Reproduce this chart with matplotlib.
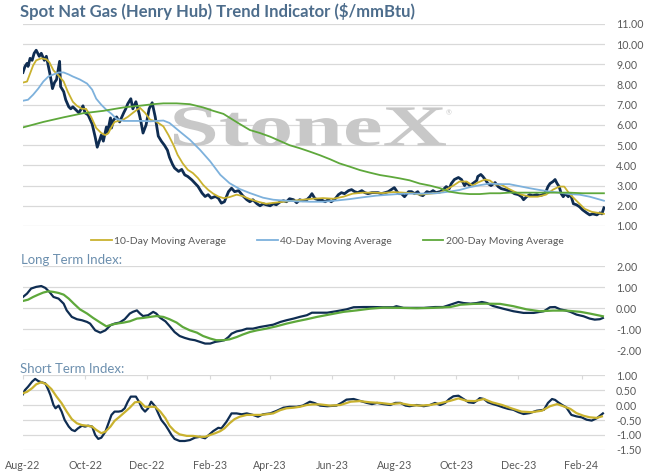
import datetime as dt

import matplotlib
matplotlib.use("Agg")
import matplotlib.pyplot as plt
import matplotlib.dates as mdates
import numpy as np
from matplotlib.font_manager import FontProperties
from matplotlib.patches import PathPatch
from matplotlib.textpath import TextPath
from matplotlib.transforms import Affine2D

plt.rcParams['font.family'] = ['Lato', 'DejaVu Sans']

START = dt.datetime(2022, 8, 1)

# ---- data (day offset from 1 Aug 2022, value) ----
spot_day = [0, 2, 4, 5, 7, 9, 11, 13, 16, 18, 21, 23, 27, 29, 31, 33, 36, 37, 40, 42,
            45, 47, 49, 53, 55, 59, 61, 64, 68, 71, 73, 75, 77, 79, 82, 83, 86, 87, 89, 92,
            95, 99, 101, 103, 106, 108, 111, 114, 116, 118, 121, 124, 127, 130, 133, 136, 139, 142, 144, 147,
            149, 153, 156, 159, 162, 166, 169, 172, 176, 179, 182, 185, 189, 192, 195, 198, 202, 205, 208, 212,
            216, 220, 223, 226, 230, 233, 236, 239, 243, 246, 249, 253, 256, 259, 262, 266, 269, 272, 275, 279,
            282, 284, 287, 290, 293, 297, 300, 303, 307, 310, 313, 316, 320, 323, 326, 329, 333, 336, 339, 343,
            346, 349, 352, 356, 359, 362, 365, 369, 372, 375, 379, 382, 385, 388, 390, 393, 397, 400, 403, 406,
            410, 413, 416, 419, 421, 424, 428, 431, 434, 436, 439, 442, 446, 447, 450, 452, 455, 457, 460, 464,
            467, 470, 474, 477, 480, 483, 487, 490, 492, 495, 498, 501, 505, 508, 511, 514, 516, 518, 521, 523,
            525, 527, 529, 531, 533, 536, 538, 541, 544, 547, 550, 554, 557, 560, 564, 567, 569, 571]
spot_val = [8.6, 8.9, 9.05, 8.9, 9.3, 9.2, 9.55, 9.7, 9.4, 9.55, 9.2, 9.4, 8.4, 7.8, 8.1, 8.25, 9.15, 7.9, 7.65, 7.25,
            6.9, 6.8, 6.9, 6.7, 6.6, 6.95, 6.6, 6.5, 6.05, 5.4, 4.9, 5.2, 5.5, 5.2, 5.9, 5.6, 6.35, 5.85, 6.25, 6.4,
            6.15, 6.6, 6.8, 7.05, 7.3, 6.8, 7.15, 6.6, 6.15, 5.6, 6.0, 6.8, 7.1, 6.4, 5.45, 5.2, 5.0, 4.75, 4.4, 4.05,
            3.87, 3.7, 3.8, 3.53, 3.45, 3.28, 3.12, 2.96, 2.63, 2.46, 2.55, 2.38, 2.46, 2.38, 2.13, 2.2, 2.7, 2.87, 2.7, 2.75,
            2.5, 2.3, 2.2, 2.3, 2.1, 2.0, 2.1, 2.05, 2.0, 2.1, 2.05, 2.2, 2.25, 2.2, 2.35, 2.3, 2.15, 2.3, 2.25, 2.3,
            2.45, 2.6, 2.35, 2.3, 2.3, 2.2, 2.3, 2.2, 2.35, 2.55, 2.65, 2.6, 2.75, 2.8, 2.7, 2.65, 2.75, 2.65, 2.6, 2.65,
            2.65, 2.65, 2.6, 2.65, 2.7, 2.8, 2.9, 2.6, 2.6, 2.45, 2.7, 2.7, 2.6, 2.7, 2.55, 2.5, 2.7, 2.65, 2.75, 2.65,
            2.7, 2.8, 2.95, 2.85, 3.1, 3.3, 3.4, 3.3, 3.0, 3.15, 3.0, 3.1, 3.25, 3.45, 3.55, 3.45, 3.25, 3.1, 3.0, 3.15,
            2.95, 2.85, 2.8, 2.75, 2.7, 2.6, 2.55, 2.45, 2.3, 2.45, 2.55, 2.5, 2.55, 2.5, 2.55, 2.7, 2.95, 3.1, 3.2, 3.3,
            3.1, 2.95, 2.6, 2.45, 2.6, 2.45, 2.6, 2.1, 2.05, 1.95, 1.8, 1.65, 1.55, 1.6, 1.55, 1.65, 1.6, 1.9]

ma10_day = [0, 4, 7, 10, 13, 18, 23, 26, 30, 35, 40, 44, 49, 53, 58, 62, 67, 72, 77, 81,
            84, 87, 90, 94, 98, 103, 108, 112, 115, 120, 125, 131, 138, 143, 148, 152, 157, 162, 167, 172,
            177, 182, 187, 192, 197, 203, 210, 216, 223, 231, 239, 247, 256, 265, 275, 285, 295, 305, 315, 324,
            334, 344, 354, 364, 374, 383, 390, 400, 410, 416, 423, 429, 436, 442, 447, 454, 459, 464, 470, 477,
            483, 490, 498, 506, 514, 521, 527, 532, 537, 542, 547, 552, 559, 565, 571]
ma10_val = [8.1, 8.15, 8.55, 8.95, 9.2, 9.3, 9.25, 9.1, 8.7, 8.45, 8.15, 7.65, 7.15, 6.95, 6.8, 6.8, 6.4, 5.85, 5.6, 5.5,
            5.6, 5.9, 6.15, 6.2, 6.25, 6.4, 6.6, 6.75, 6.85, 6.6, 6.26, 6.17, 5.93, 5.5, 5.0, 4.52, 4.1, 3.78, 3.62, 3.37,
            3.04, 2.79, 2.6, 2.46, 2.38, 2.43, 2.55, 2.48, 2.33, 2.2, 2.1, 2.15, 2.2, 2.25, 2.3, 2.35, 2.38, 2.35, 2.45, 2.6,
            2.65, 2.65, 2.63, 2.68, 2.65, 2.62, 2.55, 2.6, 2.65, 2.8, 3.0, 3.2, 3.2, 3.0, 3.15, 3.3, 3.25, 3.05, 3.05, 2.85,
            2.7, 2.55, 2.45, 2.45, 2.55, 2.8, 2.95, 2.95, 2.6, 2.35, 2.1, 1.85, 1.7, 1.65, 1.6]

ma40_day = [0, 5, 10, 15, 20, 25, 30, 35, 40, 45, 49, 56, 63, 68, 72, 77, 82, 87, 92, 99,
            105, 112, 118, 125, 131, 138, 144, 154, 164, 174, 184, 194, 203, 213, 223, 236, 246, 256, 269, 282,
            295, 308, 321, 334, 347, 360, 374, 387, 406, 419, 429, 439, 449, 459, 469, 478, 488, 498, 508, 518,
            528, 537, 547, 557, 571]
ma40_val = [7.2, 7.25, 7.5, 7.8, 8.15, 8.4, 8.5, 8.6, 8.6, 8.5, 8.4, 8.25, 8.05, 7.75, 7.3, 7.0, 6.75, 6.55, 6.3, 6.2,
            6.2, 6.2, 6.2, 6.18, 6.2, 6.22, 6.1, 5.68, 5.27, 4.77, 4.2, 3.53, 3.12, 2.83, 2.63, 2.4, 2.3, 2.26, 2.22, 2.2,
            2.2, 2.26, 2.33, 2.42, 2.5, 2.55, 2.6, 2.6, 2.62, 2.7, 2.78, 2.92, 3.02, 3.1, 3.07, 3.07, 2.97, 2.87, 2.78, 2.7,
            2.65, 2.58, 2.55, 2.45, 2.25]

ma200_day = [0, 20, 40, 59, 79, 99, 118, 128, 138, 151, 164, 177, 187, 197, 205, 213, 223, 233, 243, 252,
             262, 272, 282, 292, 302, 311, 321, 331, 341, 351, 361, 370, 380, 390, 400, 410, 419, 429, 439, 449,
             459, 469, 478, 498, 524, 537, 550, 571]
ma200_val = [5.88, 6.15, 6.38, 6.58, 6.7, 6.87, 6.97, 7.03, 7.07, 7.07, 7.03, 6.87, 6.7, 6.55, 6.3, 6.05, 5.75, 5.6, 5.42, 5.22,
             5.0, 4.85, 4.68, 4.5, 4.3, 4.1, 3.94, 3.77, 3.64, 3.52, 3.44, 3.36, 3.26, 3.1, 3.0, 2.87, 2.7, 2.62, 2.58, 2.58,
             2.62, 2.62, 2.65, 2.65, 2.65, 2.65, 2.62, 2.62]

lt_day = [0, 4, 8, 13, 18, 22, 26, 30, 35, 40, 43, 48, 53, 58, 63, 66, 71, 76, 81, 86,
          90, 95, 100, 105, 108, 112, 115, 118, 123, 128, 131, 135, 140, 144, 149, 154, 159, 164, 169, 174,
          179, 184, 189, 194, 198, 202, 205, 210, 215, 220, 226, 233, 239, 246, 253, 259, 266, 272, 279, 284,
          292, 299, 308, 318, 325, 335, 344, 354, 364, 367, 374, 384, 394, 405, 413, 420, 428, 433, 440, 446,
          451, 456, 462, 472, 482, 492, 502, 512, 518, 523, 528, 533, 538, 544, 551, 557, 562, 567, 570]
lt_val = [0.54, 0.7, 0.94, 1.02, 1.06, 0.97, 0.78, 0.54, 0.46, 0.22, -0.1, -0.41, -0.52, -0.57, -0.65, -0.73, -1.05, -1.16, -1.05, -0.81,
          -0.73, -0.68, -0.52, -0.25, -0.17, -0.1, -0.25, -0.37, -0.33, -0.17, -0.25, -0.46, -0.62, -0.84, -1.13, -1.32, -1.41, -1.48, -1.52, -1.6,
          -1.68, -1.68, -1.6, -1.56, -1.52, -1.37, -1.21, -1.1, -1.05, -0.97, -0.97, -0.89, -0.84, -0.78, -0.65, -0.57, -0.49, -0.41, -0.33, -0.21,
          -0.21, -0.21, -0.14, -0.05, 0.05, 0.06, 0.06, 0.05, 0.05, 0.1, 0.02, 0.02, 0.02, 0.06, 0.06, 0.17, 0.3, 0.25, 0.22, 0.25,
          0.3, 0.25, 0.11, -0.02, -0.14, -0.22, -0.22, -0.14, 0.05, 0.06, -0.05, -0.1, -0.17, -0.3, -0.38, -0.49, -0.54, -0.52, -0.46]

lt_avg_day = [0, 5, 10, 15, 20, 25, 30, 35, 40, 45, 50, 56, 63, 69, 76, 82, 87, 92, 99, 105,
              112, 118, 125, 131, 138, 144, 151, 157, 164, 171, 177, 184, 190, 197, 203, 210, 216, 223, 230, 239,
              249, 259, 269, 279, 289, 302, 315, 328, 341, 354, 371, 387, 403, 420, 430, 443, 456, 469, 482, 495,
              508, 521, 534, 548, 557, 570]
lt_avg_val = [0.35, 0.41, 0.54, 0.65, 0.75, 0.81, 0.78, 0.73, 0.65, 0.46, 0.22, -0.05, -0.25, -0.46, -0.68, -0.86, -0.78, -0.73, -0.68, -0.62,
              -0.49, -0.46, -0.41, -0.37, -0.41, -0.52, -0.68, -0.89, -1.05, -1.16, -1.32, -1.44, -1.52, -1.52, -1.48, -1.37, -1.25, -1.13, -1.05, -0.97,
              -0.86, -0.73, -0.62, -0.52, -0.41, -0.29, -0.17, -0.1, -0.02, 0.03, 0.02, 0.0, 0.02, 0.06, 0.17, 0.21, 0.22, 0.21, 0.1, -0.05,
              -0.14, -0.11, -0.11, -0.17, -0.25, -0.38]

st_day = [0, 2, 5, 9, 12, 15, 18, 22, 25, 27, 30, 32, 35, 38, 41, 45, 48, 51, 54, 58,
          61, 64, 68, 71, 74, 77, 81, 84, 87, 90, 94, 97, 100, 103, 106, 111, 114, 117, 120, 123,
          126, 130, 133, 136, 140, 143, 146, 149, 154, 159, 164, 169, 174, 179, 182, 187, 192, 195, 200, 205,
          210, 215, 220, 226, 231, 236, 243, 249, 256, 262, 269, 275, 282, 287, 292, 299, 308, 313, 318, 325,
          331, 338, 343, 348, 354, 361, 366, 371, 376, 380, 387, 394, 400, 405, 410, 415, 419, 423, 428, 433,
          438, 443, 446, 449, 453, 457, 462, 467, 472, 477, 482, 487, 492, 498, 505, 512, 516, 520, 523, 526,
          530, 534, 539, 544, 549, 554, 559, 564, 567, 570]
st_val = [0.36, 0.5, 0.61, 0.78, 0.87, 0.8, 0.76, 0.72, 0.5, 0.33, 0.0, -0.11, -0.02, -0.22, -0.5, -0.72, -0.83, -0.87, -0.78, -0.69,
          -0.72, -0.69, -0.72, -1.0, -1.13, -1.09, -0.89, -0.61, -0.33, -0.22, -0.22, -0.2, -0.11, 0.11, 0.28, 0.28, 0.11, -0.11, -0.22, -0.11,
          0.11, -0.05, -0.28, -0.5, -0.67, -0.83, -1.0, -1.13, -1.2, -1.2, -1.17, -1.09, -1.06, -1.11, -1.02, -0.87, -0.76, -0.78, -0.56, -0.28,
          -0.28, -0.31, -0.28, -0.33, -0.39, -0.31, -0.28, -0.2, -0.09, -0.06, -0.06, -0.02, 0.11, 0.06, -0.02, -0.04, -0.02, 0.07, 0.18, 0.2,
          0.14, 0.07, 0.03, 0.07, 0.03, 0.0, 0.07, 0.07, -0.02, -0.04, 0.0, -0.04, 0.0, 0.07, 0.0, 0.07, 0.2, 0.29, 0.31, 0.2,
          0.09, 0.07, 0.14, 0.23, 0.2, 0.09, 0.03, -0.02, -0.08, -0.13, -0.16, -0.24, -0.3, -0.27, -0.19, -0.16, 0.07, 0.2, 0.17, 0.09,
          0.0, -0.08, -0.33, -0.38, -0.41, -0.49, -0.52, -0.44, -0.36, -0.28]

st_avg_day = [0, 4, 9, 13, 18, 23, 28, 33, 38, 43, 48, 53, 58, 63, 68, 72, 77, 81, 86, 90,
              95, 100, 105, 110, 115, 120, 125, 130, 135, 140, 144, 149, 154, 161, 167, 174, 179, 184, 189, 194,
              198, 203, 208, 213, 220, 226, 233, 239, 246, 253, 259, 266, 272, 279, 285, 292, 302, 312, 322, 331,
              341, 351, 361, 371, 380, 390, 400, 410, 420, 428, 436, 444, 453, 461, 471, 480, 490, 500, 510, 518,
              525, 531, 538, 544, 551, 557, 564, 569]
st_avg_val = [0.39, 0.44, 0.56, 0.69, 0.76, 0.69, 0.53, 0.28, 0.06, -0.22, -0.47, -0.61, -0.67, -0.69, -0.72, -0.83, -0.94, -0.89, -0.72, -0.53,
              -0.39, -0.24, -0.09, 0.09, 0.11, -0.06, -0.06, -0.06, -0.22, -0.44, -0.69, -0.87, -0.98, -1.03, -1.03, -1.06, -1.06, -1.0, -0.94, -0.87,
              -0.78, -0.61, -0.47, -0.39, -0.33, -0.33, -0.33, -0.31, -0.28, -0.17, -0.11, -0.09, -0.06, 0.0, 0.02, 0.02, -0.02, 0.0, 0.11, 0.13,
              0.09, 0.07, 0.03, 0.06, 0.0, -0.02, 0.0, 0.06, 0.14, 0.22, 0.14, 0.13, 0.2, 0.09, 0.0, -0.11, -0.22, -0.24, -0.19, -0.04,
              0.03, -0.04, -0.13, -0.27, -0.36, -0.41, -0.43, -0.38]

NAVY = '#0f2d52'
GOLD = '#c9b22f'
BLUE = '#7db1dc'
GREEN = '#5ea83b'
GRID = '#d9d9d9'
TICK = '#595959'


def to_dates(days):
    return mdates.date2num(START) + np.asarray(days, dtype=float)


fig = plt.figure(figsize=(6.47, 4.71), dpi=100)
W, H = 647, 471

ax1 = fig.add_axes([0.0355, 0.5202, 0.8995, 0.4289])
ax2 = fig.add_axes([0.0355, 0.2563, 0.8995, 0.1783])
ax3 = fig.add_axes([0.0355, 0.0446, 0.8995, 0.1592])

xmin = mdates.date2num(START)
xmax = xmin + 572

for ax in (ax1, ax2, ax3):
    ax.set_xlim(xmin, xmax)
    for s in ax.spines.values():
        s.set_visible(False)
    ax.yaxis.tick_right()
    ax.grid(axis='y', color=GRID, lw=0.9)
    ax.set_axisbelow(True)
    ax.tick_params(axis='y', length=0, pad=8, labelsize=7.7, labelcolor=TICK)
    ax.yaxis.set_major_formatter(plt.FuncFormatter(lambda v, p: f'{v:.2f}'))

# top panel
ax1.set_ylim(1, 11)
ax1.set_yticks(np.arange(1, 12, 1))
ax1.set_xticks([])
ax1.plot(to_dates(spot_day), spot_val, color=NAVY, lw=2.0, zorder=3)
l10, = ax1.plot(to_dates(ma10_day), ma10_val, color=GOLD, lw=1.3, zorder=4, label='10-Day Moving Average')
l40, = ax1.plot(to_dates(ma40_day), ma40_val, color=BLUE, lw=1.3, zorder=4, label='40-Day Moving Average')
l200, = ax1.plot(to_dates(ma200_day), ma200_val, color=GREEN, lw=1.3, zorder=4, label='200-Day Moving Average')

# watermark
tp = TextPath((0, 0), 'StoneX', size=1, prop=FontProperties(family='Liberation Serif', weight='bold'))
ext = tp.get_extents()
wx0, wx1, wy0, wy1 = 174, 446, 107, 146
tr = (Affine2D().translate(-ext.x0, -ext.y0)
      .scale((wx1 - wx0) / W / ext.width, (wy1 - wy0) / H / ext.height)
      .translate(wx0 / W, 1 - wy1 / H) + fig.transFigure)
ax1.add_artist(PathPatch(tp, transform=tr, facecolor='#c8c8c8', edgecolor='none', zorder=1))
fig.text(449 / W, 1 - 113 / H, '®', fontsize=5, color='#c8c8c8', ha='center', va='center')

# long term index
ax2.set_ylim(-2, 2)
ax2.set_yticks([-2, -1, 0, 1, 2])
ax2.set_xticks([])
ax2.plot(to_dates(lt_day), lt_val, color=NAVY, lw=1.6, zorder=3)
ax2.plot(to_dates(lt_avg_day), lt_avg_val, color=GREEN, lw=1.6, zorder=4)

# short term index
ax3.set_ylim(-1.5, 1)
ax3.set_yticks([-1.5, -1, -0.5, 0, 0.5, 1])
ax3.plot(to_dates(st_day), st_val, color=NAVY, lw=1.6, zorder=3)
ax3.plot(to_dates(st_avg_day), st_avg_val, color=GOLD, lw=1.6, zorder=4)
ax3.xaxis.set_major_locator(mdates.MonthLocator(bymonth=[2, 4, 6, 8, 10, 12]))
ax3.xaxis.set_major_formatter(mdates.DateFormatter('%b-%y'))
ax3.tick_params(axis='x', bottom=False, top=True, labelbottom=True, labeltop=False,
                direction='in', length=3, color=GRID, labelsize=7.7, labelcolor=TICK, pad=7)

# texts
fig.text(20 / W, 1 - 12 / H, 'Spot Nat Gas (Henry Hub) Trend Indicator ($/mmBtu)',
         fontsize=12, fontweight='bold', color='#4d6d8c', va='center', ha='left')
fig.text(21 / W, 1 - 260 / H, 'Long Term Index:', fontsize=9.5, color='#6c8fae', va='center', ha='left')
fig.text(20 / W, 1 - 369 / H, 'Short Term Index:', fontsize=9.5, color='#6c8fae', va='center', ha='left')

fig.legend(handles=[l10, l40, l200], loc='center', bbox_to_anchor=(327 / W, 1 - 241 / H),
           ncol=3, frameon=False, fontsize=7.5, handlelength=2.0, handletextpad=0.2,
           columnspacing=3.0, labelcolor=TICK)

fig.savefig('out.png', dpi=100)
